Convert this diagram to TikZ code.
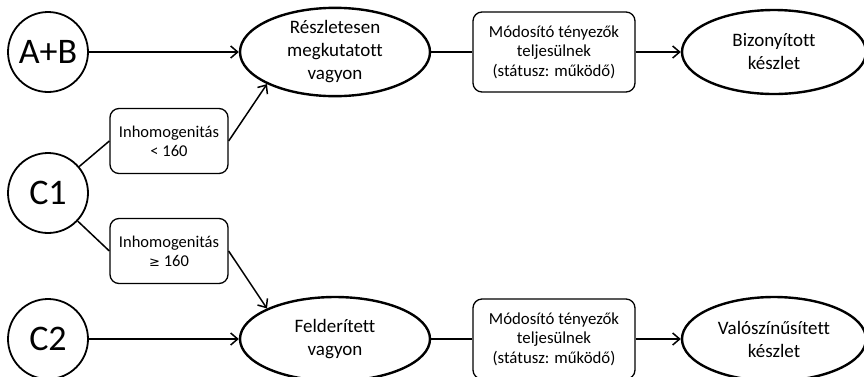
\documentclass[tikz,border=0pt]{standalone}
\usepackage{fontspec}
\setmainfont{Carlito}[Ligatures=CommonOff]
\usetikzlibrary{shapes.geometric,arrows.meta}
\tikzset{
  src/.style={draw, circle, line width=1.8pt, minimum size=80pt, inner sep=0pt, font=\fontsize{36}{40}\selectfont},
  ell/.style={draw, ellipse, line width=2.4pt, minimum width=190pt, minimum height=84pt, inner sep=0pt, align=center, font=\fontsize{19}{23}\selectfont},
  cond/.style={draw, rounded corners=9pt, line width=1.3pt, minimum width=118pt, minimum height=65pt, inner sep=0pt, align=center, font=\fontsize{16.5}{19}\selectfont},
  modb/.style={draw, rounded corners=9pt, line width=1.3pt, minimum width=162pt, minimum height=80pt, inner sep=0pt, align=center, font=\fontsize{16.8}{19.5}\selectfont},
  conn/.style={line width=1.5pt},
  arr/.style={line width=1.5pt, -{Straight Barb[length=7pt,width=12pt,line width=1.5pt]}}
}
\begin{document}
\begin{tikzpicture}[x=1pt,y=-1pt]
\useasboundingbox (0,0) rectangle (864,376);
\node[src] (ab) at (48,52) {A+B};
\node[src] (c1) at (48,193) {C1};
\node[src] (c2) at (48,339) {C2};
\node[ell] (e1) at (335,52) {Részletesen\\megkutatott\\vagyon};
\node[ell] (e2) at (335,339) {Felderített\\vagyon};
\node[cond] (b1) at (169,141) {Inhomogenitás\\< 160};
\node[cond] (b2) at (169,251) {Inhomogenitás\\{\fontspec{DejaVu Sans}\fontsize{13}{19}\selectfont ≥} 160};
\node[modb] (m1) at (554,52) {Módosító tényezők\\teljesülnek\\(státusz: működő)};
\node[modb] (m2) at (554,339) {Módosító tényezők\\teljesülnek\\(státusz: működő)};
\node[ell, minimum width=184pt] (k1) at (774,52) {Bizonyított\\készlet};
\node[ell, minimum width=184pt] (k2) at (774,339) {Valószínűsített\\készlet};
\draw[arr] (ab) -- (e1);
\draw[arr] (c2) -- (e2);
\draw[conn] (c1) -- (b1.west);
\draw[conn] (c1) -- (b2.west);
\draw[arr] (b1.east) -- (e1.south west);
\draw[arr] (b2.east) -- (e2.north west);
\draw[conn] (e1) -- (m1);
\draw[conn] (e2) -- (m2);
\draw[arr] (m1) -- (k1);
\draw[arr] (m2) -- (k2);
\end{tikzpicture}
\end{document}
